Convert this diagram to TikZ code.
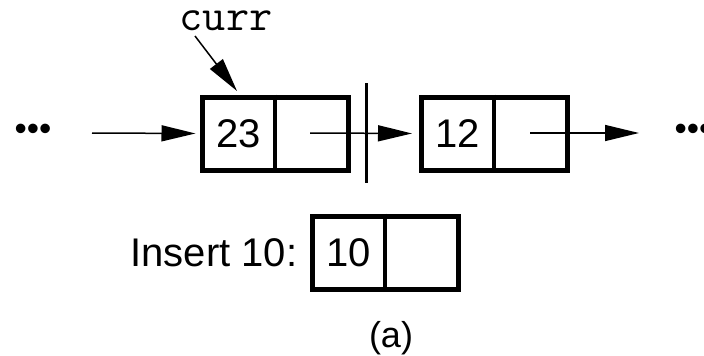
\documentclass[tikz,border=0pt]{standalone}
\usepackage{fontspec}
\setmainfont{Liberation Sans}
\usetikzlibrary{arrows.meta,calc}
\tikzset{
  cellbox/.style={draw, line width=5pt, minimum width=146pt, minimum height=73pt, inner sep=0pt},
  divider/.style={line width=3.5pt},
  ptr/.style={line width=1.5pt, -{Triangle[length=34pt,width=16pt]}},
  val/.style={font=\fontsize{40}{40}\selectfont, inner sep=0pt},
  ellip/.style={font=\fontsize{35}{35}\selectfont, inner sep=0pt},
  code/.style={font=\ttfamily\fontsize{45}{45}\selectfont, inner sep=0pt},
  bar/.style={line width=3pt}
}
\begin{document}
\begin{tikzpicture}[x=1pt,y=-1pt]
\useasboundingbox (0,0) rectangle (704,356);

% list nodes: value cell + next cell
\node[cellbox] (b1) at (275,133.5) {};
\draw[divider] (b1.north) -- (b1.south);
\node[val] (v1) at ([xshift=-36.5pt]b1.center) {23};

\node[cellbox] (b2) at (494,133.5) {};
\draw[divider] (b2.north) -- (b2.south);
\node[val] (v2) at ([xshift=-36.5pt]b2.center) {12};

% elided parts of the list
\node[ellip] (dl) at (33,132) {•••};
\node[ellip] (dr) at (693,132) {•••};

% incoming and outgoing links
\coordinate (inL) at (92,133);
\draw[ptr, shorten >=4pt] (inL) -- (b1.west);

\coordinate (p1) at (310,133);
\draw[ptr, shorten >=6.5pt] (p1) -- (b2.west);

\coordinate (p2) at (530,133);
\coordinate (outR) at (639,133);
\draw[ptr] (p2) -- (outR);

% cut mark on the link between the two nodes
\coordinate (bt) at (366,83);
\coordinate (bb) at (366,183);
\draw[bar] (bt) -- (bb);

% current pointer
\node[code] (curr) at (226,21) {curr};
\coordinate (cs) at (195,36);
\coordinate (ce) at (237,91);
\draw[ptr] (cs) -- (ce);

% node to insert
\node[cellbox] (b3) at (385,252.5) {};
\draw[divider] (b3.north) -- (b3.south);
\node[val] (v3) at ([xshift=-36.5pt]b3.center) {10};
\node[val, anchor=east] (ins) at ([xshift=-12pt]b3.west) {Insert 10:};

\node[font=\fontsize{36}{36}\selectfont, inner sep=0pt] (cap) at (391,338) {(a)};
\end{tikzpicture}
\end{document}
